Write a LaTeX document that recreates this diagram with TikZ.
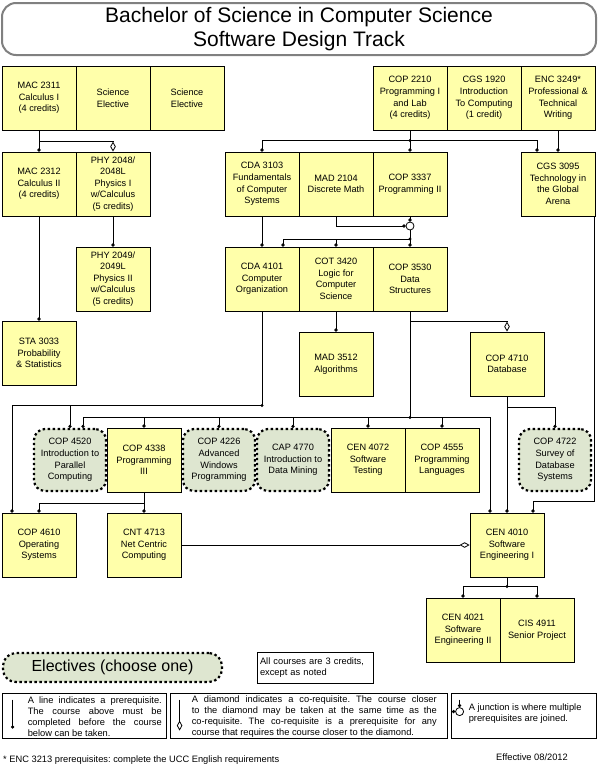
\documentclass[tikz,border=0pt]{standalone}
\usepackage{fontspec}
\setmainfont{Liberation Sans}
\usepackage{tikz}
\usetikzlibrary{arrows.meta,calc,positioning}
\definecolor{courseyellow}{RGB}{255,255,170}
\definecolor{electivegreen}{RGB}{222,230,208}
\definecolor{titlegray}{RGB}{128,128,128}
\newcommand{\coursefont}{\fontsize{9.2}{11.6}\selectfont}
\newcommand{\notefont}{\fontsize{9.3}{10.8}\selectfont\frenchspacing}
\newcommand{\joint}[1]{\fill (#1) circle (1.6pt);}
\tikzset{
  course/.style={
    rectangle, draw=black, fill=courseyellow, line width=0.8pt,
    minimum width=74pt, minimum height=64pt, align=center,
    font=\coursefont, inner sep=1pt
  },
  elective/.style={
    course, fill=electivegreen, rounded corners=11pt,
    minimum width=72pt, minimum height=62pt,
    line width=2.2pt, dash pattern=on 2.4pt off 2.6pt
  },
  titlebox/.style={
    rectangle, draw=titlegray, line width=2pt, rounded corners=14pt,
    minimum width=594pt, minimum height=52pt, align=center,
    font=\fontsize{21}{24}\selectfont
  },
  legendbox/.style={
    rectangle, draw=black, line width=0.8pt, inner sep=0pt
  },
  junction/.style={
    circle, draw=black, fill=white, line width=0.8pt,
    minimum size=8pt, inner sep=0pt
  },
  pre/.style={-{Circle[length=3.2pt]}, line width=0.8pt, draw=black},
  co/.style={-{Diamond[open, length=10pt, width=5.5pt]}, line width=0.8pt, draw=black},
  note/.style={font=\notefont, inner sep=0pt}
}

\begin{document}
\begin{tikzpicture}[x=1pt,y=-1pt]
  \useasboundingbox (0,0) rectangle (598,769);
  \node[titlebox] (title) at (299,29)
    {Bachelor of Science in Computer Science\\Software Design Track};

  % first year
  \node[course] (mac2311) at (39,98) {MAC 2311\\Calculus I\\(4 credits)};
  \node[course] (sciA) at (113,98) {Science\\Elective};
  \node[course] (sciB) at (187,98) {Science\\Elective};
  \node[course] (cop2210) at (410,98) {COP 2210\\Programming I\\and Lab\\(4 credits)};
  \node[course] (cgs1920) at (484,98) {CGS 1920\\Introduction\\To Computing\\(1 credit)};
  \node[course] (enc3249) at (558,98) {ENC 3249*\\Professional \&\\Technical\\Writing};

  \node[course] (mac2312) at (39,184) {MAC 2312\\Calculus II\\(4 credits)};
  \node[course] (phy2048) at (113,184) {PHY 2048/\\2048L\\Physics I\\w/Calculus\\(5 credits)};
  \node[course] (cda3103) at (262,184) {CDA 3103\\Fundamentals\\of Computer\\Systems};
  \node[course] (mad2104) at (336,184) {MAD 2104\\Discrete Math};
  \node[course] (cop3337) at (410,184) {COP 3337\\Programming II};
  \node[course] (cgs3095) at (558,184) {CGS 3095\\Technology in\\the Global\\Arena};

  \node[course] (phy2049) at (113,279) {PHY 2049/\\2049L\\Physics II\\w/Calculus\\(5 credits)};
  \node[course] (cda4101) at (262,279) {CDA 4101\\Computer\\Organization};
  \node[course] (cot3420) at (336,279) {COT 3420\\Logic for\\Computer\\Science};
  \node[course] (cop3530) at (410,279) {COP 3530\\Data\\Structures};

  \node[course] (sta3033) at (39,353) {STA 3033\\Probability\\\& Statistics};
  \node[course] (mad3512) at (336,364) {MAD 3512\\Algorithms};
  \node[course] (cop4710) at (507,364) {COP 4710\\Database};

  % upper level
  \node[elective] (cop4520) at (70,460) {COP 4520\\Introduction to\\Parallel\\Computing};
  \node[course] (cop4338) at (144,460) {COP 4338\\Programming\\III};
  \node[elective] (cop4226) at (219,460) {COP 4226\\Advanced\\Windows\\Programming};
  \node[elective] (cap4770) at (293,460) {CAP 4770\\Introduction to\\Data Mining};
  \node[course] (cen4072) at (368,460) {CEN 4072\\Software\\Testing};
  \node[course] (cop4555) at (442,460) {COP 4555\\Programming\\Languages};
  \node[elective] (cop4722) at (555,460) {COP 4722\\Survey of\\Database\\Systems};

  \node[course] (cop4610) at (39,545) {COP 4610\\Operating\\Systems};
  \node[course] (cnt4713) at (144,545) {CNT 4713\\Net Centric\\Computing};
  \node[course] (cen4010) at (507,545) {CEN 4010\\Software\\Engineering I};
  \node[course] (cen4021) at (463,630) {CEN 4021\\Software\\Engineering II};
  \node[course] (cis4911) at (537,630) {CIS 4911\\Senior Project};

  \node[junction] (join) at (410,226) {};
  \coordinate (split1) at ($(cop2210.south)+(0,10)$);
  \coordinate (split2) at (410,239);
  \coordinate (split3) at ($(cda4101.south)+(0,94)$);
  \coordinate (split4) at ($(cop3530.south)+(0,106)$);
  \coordinate (split5) at ($(cen4010.south)+(0,9)$);

  \draw[pre] (mac2311.south) -- (mac2312.north);
  \draw[co] ($(mac2311.south)+(0,11)$) -| (phy2048.north);
  \draw[pre] (mac2312.south) -- (sta3033.north);
  \draw[pre] (phy2048.south) -- (phy2049.north);

  \draw[pre] (cop2210.south) -- (cop3337.north);
  \draw[pre] (split1) -| (cda3103.north);
  \draw[pre] (split1) -| ($(cgs3095.north)+(-21,0)$);
  \draw[pre] (enc3249.south) -- (cgs3095.north);
  \draw[pre] (cda3103.south) -- (cda4101.north);
  \draw[pre] (mad2104.south) |- (join.west);
  \draw[pre] (cop3337.south) -- (join.north);
  \draw[pre] (join.south) -- (cop3530.north);
  \draw[pre] (split2) -| ($(cda4101.north)+(21,0)$);
  \draw[pre] (split2) -| (cot3420.north);
  \draw[pre] (cot3420.south) -- (mad3512.north);

  \draw[pre] (cda4101.south) -- (split3) -| ($(cop4610.north)+(-27,0)$);
  \draw[pre] (split3) -| (cop4520.north);
  \draw[pre] (cop3530.south) -- (split4) -| ($(cop4520.north)+(13,0)$);
  \draw[pre] (split4) -| (cop4338.north);
  \draw[pre] (split4) -| (cop4226.north);
  \draw[pre] (split4) -| (cap4770.north);
  \draw[pre] (split4) -| (cen4072.north);
  \draw[pre] (split4) -| (cop4555.north);
  \draw[pre] (split4) -| ($(cen4010.north)+(-17,0)$);
  \draw[co] ($(cop3530.south)+(0,10)$) -| (cop4710.north);
  \draw[pre] (cop4710.south) -- (cen4010.north);
  \draw[pre] ($(cop4710.south)+(0,11)$) -| (cop4722.north);
  \draw[pre] ($(cgs3095.south east)+(-1,0)$) |- ($(cen4010.north)+(26,-11)$)
    -- ($(cen4010.north)+(26,0)$);

  \draw[pre] (cop4338.south) -- (cnt4713.north);
  \draw[pre] ($(cop4338.south)+(0,11)$) -| (cop4610.north);
  \draw[co] (cnt4713.east) -- (cen4010.west);
  \draw[pre] (cen4010.south) -- (split5) -| (cen4021.north);
  \draw[pre] (split5) -| (cis4911.north);

  \joint{split1}
  \joint{split2}
  \joint{split3}
  \joint{split4}
  \joint{split5}

  % legend
  \node[elective, minimum width=219pt, minimum height=29pt, rounded corners=13pt,
    font=\fontsize{16}{18}\selectfont] (electives) at (112.5,667.5)
    {Electives (choose one)};
  \node[legendbox, note, text width=110pt, inner xsep=3pt, minimum height=31pt,
    align=left] (credits) at (315,667.5) {All courses are 3 credits,\\except as noted};

  \node[legendbox, minimum width=164pt, minimum height=45pt] (legline) at (84,715.5) {};
  \node[note, text width=134pt, align=justify, anchor=west] (leglinetext)
    at ($(legline.west)+(26,1)$)
    {A line indicates a prerequisite.\linebreak The course above must be\linebreak
     completed before the course\linebreak below can be taken.};
  \coordinate (lineA) at ($(legline.north west)+(11,7)$);
  \coordinate (lineB) at ($(legline.north west)+(11,36)$);
  \draw[pre] (lineA) -- (lineB);

  \node[legendbox, minimum width=277pt, minimum height=45pt] (legdiam) at (308.5,715.5) {};
  \node[note, text width=245pt, align=justify, anchor=west] (legdiamtext)
    at ($(legdiam.west)+(22,1)$)
    {A diamond indicates a co-requisite. The course closer\linebreak
     to the diamond may be taken at the same time as the\linebreak
     co-requisite. The co-requisite is a prerequisite for any\linebreak
     course that requires the course closer to the diamond.};
  \coordinate (diamA) at ($(legdiam.north west)+(10,7)$);
  \coordinate (diamB) at ($(legdiam.north west)+(10,38)$);
  \draw[co] (diamA) -- (diamB);

  \node[legendbox, minimum width=145pt, minimum height=45pt] (legjunc) at (523.5,715.5) {};
  \node[junction] (legjoin) at ($(legjunc.north west)+(9,19)$) {};
  \coordinate (juncA) at ($(legjunc.north west)+(9,7)$);
  \coordinate (juncB) at ($(legjunc.north west)+(1,19)$);
  \draw[pre] (juncA) -- (legjoin.north);
  \draw[pre] (juncB) -- (legjoin.west);
  \node[note, align=left, anchor=west] (legjunctext) at ($(legjunc.west)+(18,-2)$)
    {A junction is where multiple\\prerequisites are joined.};

  \node[note, anchor=west] (footnote) at (3,760)
    {* ENC 3213 prerequisites: complete the UCC English requirements};
  \node[note] (effective) at (532,757) {Effective 08/2012};
\end{tikzpicture}
\end{document}
